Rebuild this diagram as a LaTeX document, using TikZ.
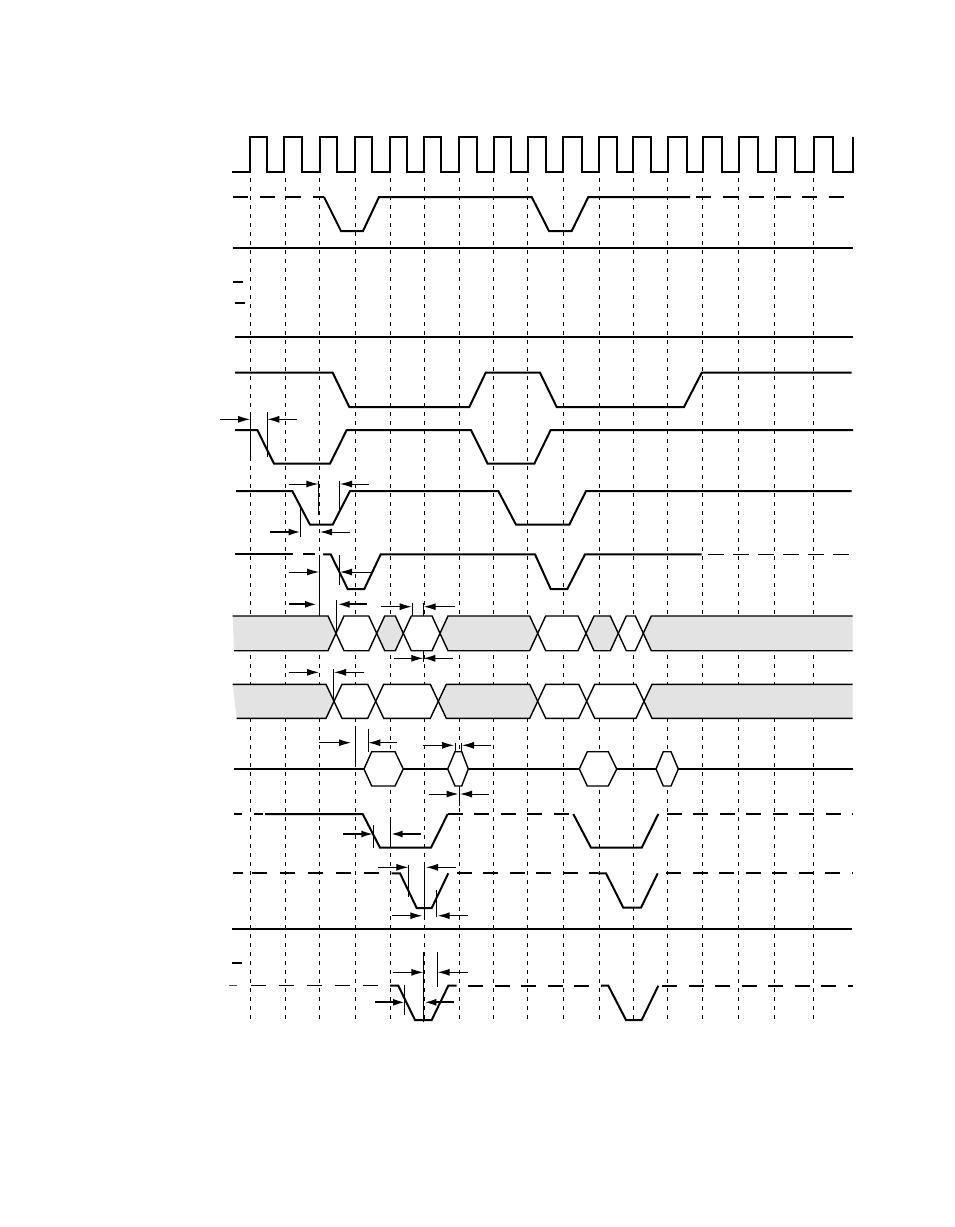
\documentclass[tikz,border=0pt]{standalone}
\usetikzlibrary{arrows.meta}
\begin{document}
\begin{tikzpicture}[x=1pt,y=-1pt,
  sig/.style={line width=2pt, line join=miter},
  sigdash/.style={line width=2pt, dash pattern=on 15pt off 11.5pt},
  thindash/.style={line width=1.1pt, dash pattern=on 15pt off 13pt},
  gridline/.style={line width=1pt, dash pattern=on 4pt off 5pt},
  dim/.style={line width=1pt, -{Latex[length=12pt,width=7pt]}},
  dimthick/.style={line width=2pt, -{Latex[length=12pt,width=7pt]}},
  ext/.style={line width=1pt},
  bus/.style={line width=1.4pt, line join=miter},
  gfill/.style={fill=black!11}]
\useasboundingbox (0,0) rectangle (954,1227);

% grid lines
\foreach \x in {250,285,319.5,355,390.5,424,459,493,527.5,563,599,633,667.5,702,738.5,774,813}
  \draw[gridline] (\x,178) -- (\x,1021);

% clock
\draw[sig] (232,172) -| (250,137) -| (267.3,172) -| (284.3,137) -| (301.7,172) -| (319.7,137)
  -| (336.7,172) -| (355.3,137) -| (371.7,172) -| (390.3,137) -| (406.7,172) -| (424.3,137)
  -| (441,172) -| (459.3,137) -| (476.7,172) -| (494,137) -| (511,172) -| (528.3,137)
  -| (546,172) -| (563.3,137) -| (581.7,172) -| (599.3,137) -| (616.7,172) -| (633.3,137)
  -| (651,172) -| (668.3,137) -| (686.7,172) -| (702.7,137) -| (721.7,172) -| (739.3,137)
  -| (758.3,172) -| (775.7,137) -| (795,172) -| (814.3,137) -| (833.3,172) -| (853.3,137);

% signal 2
\draw[sigdash] (233,197) -- (324,197);
\draw[sig] (324,197) -- (341,231) -- (363,231) -- (379,197) -- (531.7,197) -- (549,231)
  -- (571.7,231) -- (588.3,197) -- (690,197);
\draw[sigdash] (696,197) -- (853,197);

% lines and ticks
\draw[sig] (233,247.5) -- (853,247.5);
\draw[sig] (233,281.7) -- (243,281.7);
\draw[sig] (235,302.5) -- (245,302.5);
\draw[sig] (235,336.7) -- (853,336.7);

% signal 6
\draw[sig] (235,372.7) -- (332.7,372.7) -- (349.3,407) -- (469.3,407) -- (485.7,372.7)
  -- (540,372.7) -- (556.7,407) -- (684,407) -- (701.7,372.7) -- (851.7,372.7);

% signal 7
\draw[sig] (235,430) -- (257.3,430) -- (274,463.7) -- (330,463.7) -- (346.7,430) -- (471,430)
  -- (487.7,463.7) -- (534.3,463.7) -- (550.7,430) -- (853,430);
\draw[dim] (220,419.3) -- (250,419.3);
\draw[ext] (250,411.7) -- (250,456.7);
\draw[dim] (297.3,419.3) -- (267.3,419.3);
\draw[ext] (267.3,411.7) -- (267.3,456.7);

% signal 8
\draw[sig] (236,491) -- (292.3,491) -- (310,524.7) -- (332.7,524.7) -- (350,491) -- (498.3,491)
  -- (516,524.7) -- (569.3,524.7) -- (586,491) -- (851.7,491);
\draw[dim] (289,484) -- (318.3,484);
\draw[ext] (318.3,480.7) -- (318.3,515);
\draw[dim] (369.3,484) -- (340,484);
\draw[ext] (339.5,480.7) -- (339.5,510);
\draw[dimthick] (270,532) -- (300.7,532);
\draw[ext] (300.7,506.7) -- (300.7,537.3);
\draw[dim] (350,532) -- (320,532);

% signal 9
\draw[sig] (235,554.3) -- (293.3,554.3);
\draw[sig] (303,554.3) -- (315,554.3);
\draw[sig] (323,554.3) -- (330.7,554.3) -- (347.7,589) -- (364.3,589) -- (380.7,554.3)
  -- (535,554.3) -- (550.7,589) -- (567.3,589) -- (585,554.3) -- (701.7,554.3);
\draw[line width=1.1pt, dash pattern=on 16pt off 9pt] (708,554.3) -- (851,554.3);
\draw[dim] (289,572) -- (319,572);
\draw[ext] (319,555) -- (319,616);
\draw[dim] (372.3,572) -- (340,572);
\draw[ext] (339.5,555) -- (339.5,585);

% bus annotations
\draw[dimthick] (289,604.3) -- (317,604.3);
\draw[dimthick] (366.7,604.3) -- (337.5,604.3);
\draw[ext] (336,600) -- (336,632.7);
\draw[dim] (381,606.7) -- (411.7,606.7);
\draw[ext] (412.3,602.7) -- (412.3,616);
\draw[dim] (455,606.7) -- (423.7,606.7);
\draw[ext] (423.5,602.7) -- (423.5,616);

% bus 1
\fill[gfill] (232.7,616) -- (328,616) -- (336,633.3) -- (328,650.7) -- (234,650.7) -- cycle;
\draw[bus] (232.7,616) -- (328,616) -- (336,633.3) -- (328,650.7) -- (234,650.7);
\foreach \a/\b/\f in {336/376.7/white, 376.7/403.3/black!11, 403.3/440/white, 440/537.7/black!11,
  537.7/586/white, 586/618.3/black!11, 618.3/643.3/white}
  \filldraw[bus, fill=\f] (\a,633.3) -- ({\a+8},616) -- ({\b-8},616) -- (\b,633.3)
    -- ({\b-8},650.7) -- ({\a+8},650.7) -- cycle;
\fill[gfill] (852.7,616) -- (651.3,616) -- (643.3,633.3) -- (651.3,650.7) -- (852.7,650.7) -- cycle;
\draw[bus] (852.7,616) -- (651.3,616) -- (643.3,633.3) -- (651.3,650.7) -- (852.7,650.7);

\draw[dim] (394.3,658.3) -- (423.3,658.3);
\draw[dim] (452.7,658.3) -- (423.3,658.3);
\draw[ext] (423.3,650) -- (423.3,661.7);
\draw[dim] (289,672.3) -- (319,672.3);
\draw[dim] (364,672.3) -- (334,672.3);
\draw[ext] (333.3,669.3) -- (333.3,701.7);

% bus 2
\fill[gfill] (232.7,684.3) -- (326,684.3) -- (334,701.3) -- (326,718.3) -- (236.7,718.3) -- cycle;
\draw[bus] (232.7,684.3) -- (326,684.3) -- (334,701.3) -- (326,718.3) -- (236.7,718.3);
\foreach \a/\b/\f in {334/375.7/white, 375.7/438.3/white, 438.3/537.7/black!11,
  537.7/586.7/white, 586.7/644/white}
  \filldraw[bus, fill=\f] (\a,701.3) -- ({\a+8},684.3) -- ({\b-8},684.3) -- (\b,701.3)
    -- ({\b-8},718.3) -- ({\a+8},718.3) -- cycle;
\fill[gfill] (852.7,684.3) -- (652,684.3) -- (644,701.3) -- (652,718.3) -- (852.7,718.3) -- cycle;
\draw[bus] (852.7,684.3) -- (652,684.3) -- (644,701.3) -- (652,718.3) -- (852.7,718.3);

% signal 12
\draw[sig] (234,769) -- (852.7,769);
\foreach \a/\b/\c/\d in {364/371.7/395/403.3, 447.7/455/461.7/468.3, 579.3/587.3/608.3/616.7, 656/663.3/671/678.3}
  \filldraw[bus, fill=white] (\a,769) -- (\b,751.7) -- (\c,751.7) -- (\d,769) -- (\c,786) -- (\b,786) -- cycle;
\draw[dim] (319.3,742.7) -- (351,742.7);
\draw[ext] (355.3,726) -- (355.3,763.3);
\draw[dim] (397.3,742.7) -- (368.3,742.7);
\draw[ext] (368.3,729.3) -- (368.3,751.7);
\draw[dim] (423.3,745.3) -- (454,745.3);
\draw[ext] (455,742.7) -- (455,751.7);
\draw[dim] (490.7,745.3) -- (462,745.3);
\draw[ext] (461.3,742.7) -- (461.3,751.7);
\draw[dim] (429,794) -- (458.5,794);
\draw[dim] (489.3,794) -- (460,794);
\draw[ext] (459.3,786) -- (459.3,806);

% signal 13
\draw[sig] (234,814) -- (241.7,814);
\draw[sig] (254.3,814) -- (263.3,814);
\draw[sig] (265,814) -- (362.7,814) -- (380,847.7) -- (431,847.7) -- (447.7,814);
\draw[sigdash] (447.7,814) -- (573.3,814);
\draw[sig] (573.3,814) -- (591,847.7) -- (641.7,847.7) -- (658.3,814);
\draw[sigdash] (666.7,814) -- (852.7,814);
\draw[dimthick] (343.3,834) -- (373.3,834);
\draw[ext] (373.3,825) -- (373.3,847.7);
\draw[dimthick] (420.7,834) -- (390.7,834);
\draw[ext] (390,817.3) -- (390,846.7);

% signal 14
\draw[sig] (232.7,873.3) -- (242.7,873.3);
\draw[sig, dash pattern=on 15pt off 13pt] (251.7,873.3) -- (391.7,873.3);
\draw[sig] (391.7,873.3) -- (400,873.3) -- (416.7,908) -- (431.7,908) -- (448.3,873.3);
\draw[sigdash] (456.5,873.3) -- (598,873.3);
\draw[sig] (598,873.3) -- (606,873.3) -- (623.3,907.7) -- (641,907.7) -- (657.7,873.3);
\draw[sigdash] (666,873.3) -- (852.7,873.3);
\draw[dim] (378.3,867.3) -- (408.3,867.3);
\draw[ext] (408.3,865) -- (408.3,896.7);
\draw[dim] (456,867.3) -- (426,867.3);
\draw[ext] (424.3,865) -- (424.3,918.3);
\draw[dim] (391.7,915.7) -- (422.3,915.7);
\draw[dim] (467.7,915.7) -- (437.7,915.7);
\draw[ext] (436.7,890) -- (436.7,916.7);

% line 15 and tick
\draw[line width=1.1pt] (231.7,929) -- (851.7,929);
\draw[sig] (231.7,963.3) -- (242.3,963.3);

% signal 17
\draw[line width=1.2pt, black!70] (229.3,985.7) -- (236.7,985.7);
\draw[thindash] (250.7,985.7) -- (390,985.7);
\draw[sig] (390,985.7) -- (398.3,985.7) -- (415,1020) -- (431.7,1020) -- (448.3,985.7) -- (456.7,985.7);
\draw[sigdash] (468,985.7) -- (601,985.7);
\draw[sig] (601,985.7) -- (608.3,985.7) -- (626,1020) -- (641.7,1020) -- (658.3,985.7);
\draw[sigdash] (662,985.7) -- (852.7,985.7);
\draw[dim] (393.3,972.3) -- (423.3,972.3);
\draw[ext] (423.3,951.7) -- (423.3,1021.7);
\draw[dim] (467.7,972.3) -- (437.7,972.3);
\draw[ext] (437.7,951.7) -- (437.7,986.7);
\draw[dimthick] (375,1002.3) -- (405,1002.3);
\draw[ext] (404.3,985) -- (404.3,1015);
\draw[dimthick] (454.3,1002.3) -- (424.3,1002.3);
\end{tikzpicture}
\end{document}
